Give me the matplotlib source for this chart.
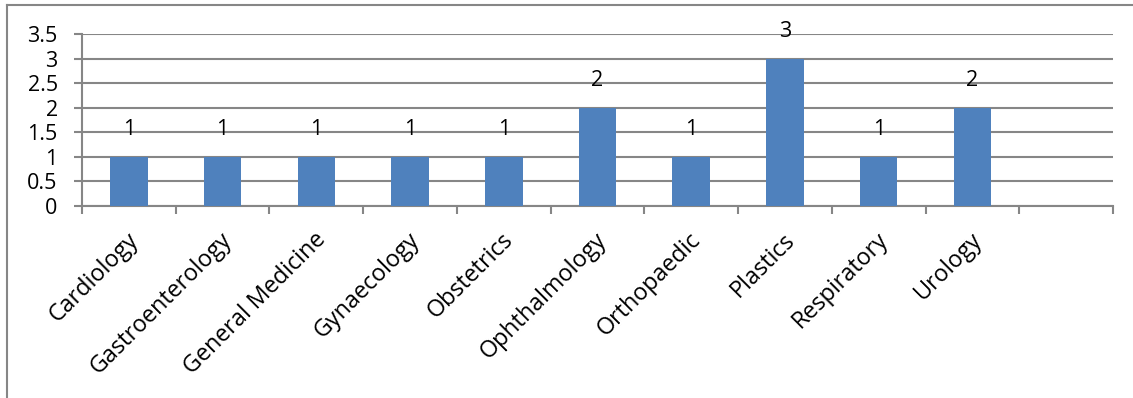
import matplotlib
matplotlib.use("Agg")
import matplotlib.pyplot as plt
from matplotlib.lines import Line2D
from matplotlib.transforms import ScaledTranslation
import numpy as np

plt.rcParams['font.family'] = ['Open Sans', 'DejaVu Sans']

categories = ["Cardiology", "Gastroenterology", "General Medicine", "Gynaecology",
              "Obstetrics", "Ophthalmology", "Orthopaedic", "Plastics",
              "Respiratory", "Urology"]
counts = [1, 1, 1, 1, 1, 2, 1, 3, 1, 2]
y_ticks = [0, 0.5, 1, 1.5, 2, 2.5, 3, 3.5]
y_tick_labels = ["0", "0.5", "1", "1.5", "2", "2.5", "3", "3.5"]

W, H = 1133, 398
fig = plt.figure(figsize=(W / 100, H / 100), dpi=100)
ax = fig.add_axes([82 / W, (H - 206) / H, (1113 - 82) / W, (206 - 34) / H])

grid_color = "#868686"
bar_color = "#4F81BD"
n_slots = len(categories) + 1
x = np.arange(len(categories))

ax.bar(x, counts, width=0.4, color=bar_color, zorder=3)

ax.set_xlim(-0.5, n_slots - 0.5)
ax.set_ylim(0, 3.5)

ax.set_yticks(y_ticks)
ax.set_yticklabels(y_tick_labels, fontsize=15.5)
ax.yaxis.grid(True, color=grid_color, linewidth=1.5, zorder=0)
ax.tick_params(axis='y', length=5.5, width=1.5, color=grid_color, pad=12)

ax.set_xticks(x)
ax.set_xticklabels(categories, fontsize=16.8, rotation=45, ha='right',
                   rotation_mode='anchor', va='center')
ax.set_xticks(np.arange(-0.5, n_slots, 1.0), minor=True)
ax.tick_params(axis='x', which='major', length=0, pad=22)
ax.tick_params(axis='x', which='minor', length=6, width=1.5, color=grid_color)
shift = ScaledTranslation(6 / 100, 0, fig.dpi_scale_trans)
for lbl in ax.get_xticklabels():
    lbl.set_transform(lbl.get_transform() + shift)

for side in ("top", "right"):
    ax.spines[side].set_visible(False)
for side in ("left", "bottom"):
    ax.spines[side].set_color(grid_color)
    ax.spines[side].set_linewidth(1.5)

for xi, v in zip(x, counts):
    ax.annotate(str(v), (xi, v), xytext=(0, 19.8), textcoords='offset points',
                ha='center', va='center', fontsize=15.5, zorder=4)

# chart area border (left and top edges)
fig.add_artist(Line2D([7 / W, 7 / W], [0, (H - 5) / H], color="#868686", linewidth=1.5))
fig.add_artist(Line2D([7 / W, 1], [(H - 5) / H, (H - 5) / H], color="#868686", linewidth=1.5))

fig.savefig("out.png", dpi=100)
